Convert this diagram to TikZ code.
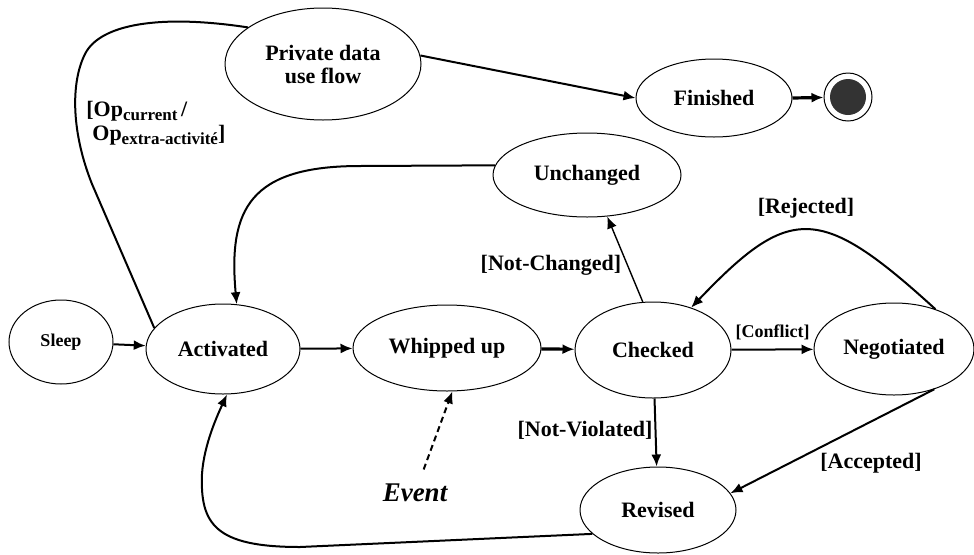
\documentclass[tikz,border=0pt]{standalone}
\usepackage{fontspec}
\setmainfont{Liberation Serif}
\usetikzlibrary{shapes.geometric,arrows.meta}

\begin{document}
\begin{tikzpicture}[x=0.5pt, y=0.5pt,
    state/.style={ellipse, draw, line width=0.5pt, inner sep=0pt,
        align=center, font=\bfseries\fontsize{11}{11.5}\selectfont},
    guard/.style={font=\bfseries\fontsize{11}{12}\selectfont},
    trans/.style={->, line width=1pt},
    >={Latex[length=6pt,width=5pt]}]

  \useasboundingbox (0,0) rectangle (974,554);

  \node[state, minimum width=98pt, minimum height=56pt] (Priv) at (323,490) {Private data\\use flow};
  \node[state, minimum width=78pt, minimum height=39pt] (Fin) at (714,456) {Finished};
  \node[circle, draw, line width=0.5pt, minimum size=24pt, inner sep=0pt] (End) at (848,457) {};
  \fill[black!80] (End) circle (9pt);
  \node[state, minimum width=94pt, minimum height=42pt] (Unch) at (587,379) {Unchanged};
  \node[state, minimum width=52pt, minimum height=42pt,
        font=\bfseries\fontsize{9}{10}\selectfont] (Sleep) at (61,212) {Sleep};
  \node[state, minimum width=77pt, minimum height=45pt] (Act) at (223,205) {Activated};
  \node[state, minimum width=94pt, minimum height=43pt] (Whip) at (447,206) {Whipped up};
  \node[state, minimum width=78pt, minimum height=48pt] (Chk) at (653,204) {Checked};
  \node[state, minimum width=80pt, minimum height=46pt] (Neg) at (894,205) {Negotiated};
  \node[state, minimum width=78pt, minimum height=43pt] (Rev) at (658,44) {Revised};
  \node[font=\bfseries\itshape\fontsize{13.5}{14}\selectfont] (Event) at (415,61) {Event};

  \draw[trans] (Sleep) -- (Act);
  \draw[trans] (Act) -- (Whip);
  \draw[trans, line width=1.6pt] (Whip) -- (Chk);
  \draw[trans] (Chk) -- node[above=1pt, font=\bfseries\fontsize{9}{10}\selectfont] (Conf) {[Conflict]} (Neg);
  \draw[trans, line width=0.7pt] (Chk.102) -- (Unch.-64);
  \draw[trans] (Unch.174) -- (360,388) .. controls (250,388) and (228,345) .. (Act.73);
  \draw[trans] (Chk) -- (Rev);
  \draw[trans] (Neg.44) .. controls (820,350) and (790,350) .. (Chk.48);
  \draw[trans] (Neg.-45) -- (Rev.13);
  \draw[trans] (Rev.200) -- (300,7) .. controls (215,7) and (200,30) .. (202,80)
      .. controls (204,110) and (218,140) .. (Act.-85);
  \draw[line width=1pt] (Act.163) -- (92,370) .. controls (72,420) and (70,470) .. (85,500)
      .. controls (100,530) and (160,540) .. (Priv.154);
  \draw[trans] (Priv.5) -- (Fin.west);
  \draw[trans, line width=1.6pt] (Fin.east) -- (End);
  \draw[trans, dashed, dash pattern=on 3pt off 2pt, shorten <=4pt] (Event) -- (Whip.-83);

  \node[guard] (NotCh) at (551,289) {[Not-Changed]};
  \node[guard] (Rej) at (806,346) {[Rejected]};
  \node[guard] (NotVi) at (585,124) {[Not-Violated]};
  \node[guard] (Acc) at (871,91) {[Accepted]};
  \node[guard, anchor=west, align=left, inner sep=0pt] (Op) at (86,431)
      {[Op\raisebox{-2pt}{\fontsize{8.5}{9}\selectfont current}\,/\\
       \hspace{3pt}Op\raisebox{-2pt}{\fontsize{8.5}{9}\selectfont extra-activité}]};
\end{tikzpicture}
\end{document}
